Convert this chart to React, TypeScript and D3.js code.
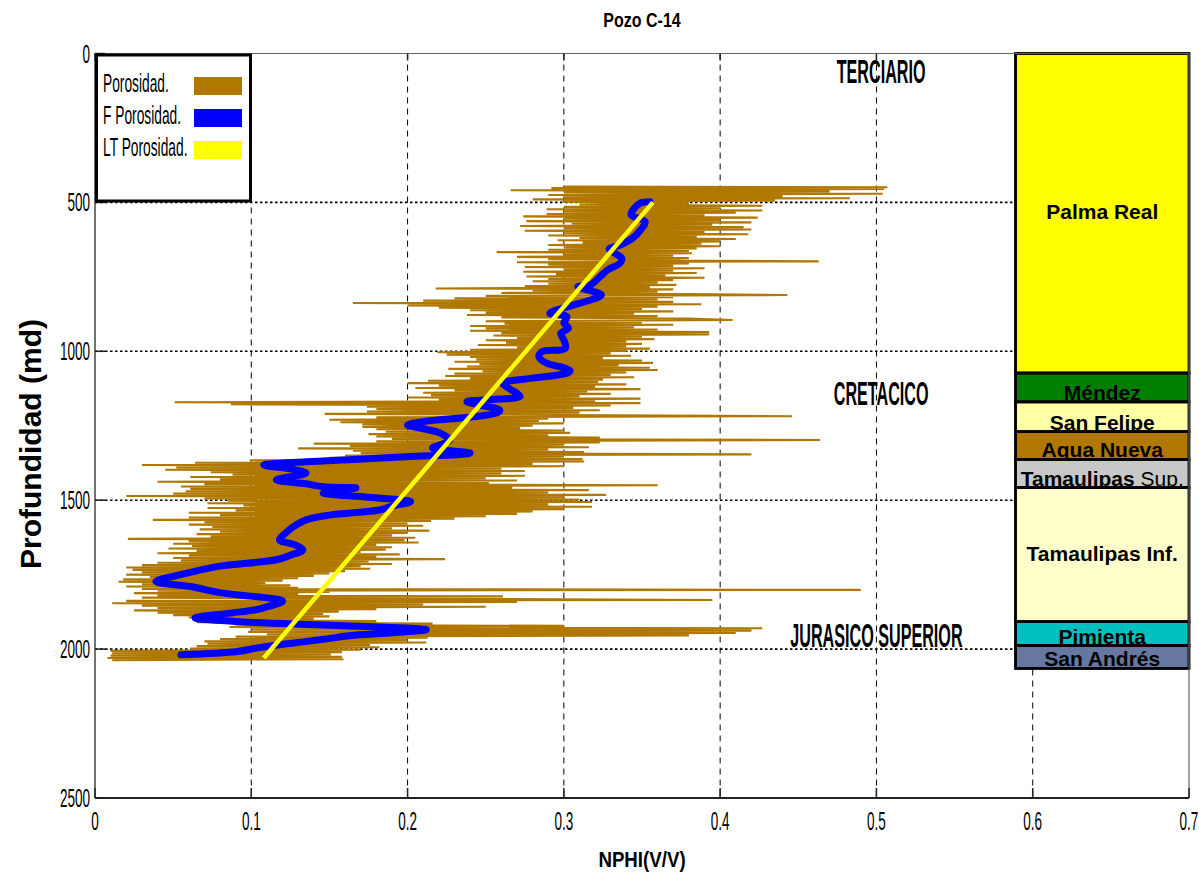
import React from 'react';
import * as d3 from 'd3';

const W = 1199;
const H = 873;

const title = 'Pozo C-14';
const xLabel = 'NPHI(V/V)';
const yLabel = 'Profundidad (md)';
const xTicks = [0, 0.1, 0.2, 0.3, 0.4, 0.5, 0.6, 0.7];
const yTicks = [0, 500, 1000, 1500, 2000, 2500];
const xGrid = [0.1, 0.2, 0.3, 0.4, 0.5, 0.6];
const yGrid = [500, 1000, 1500, 2000];

// [depth (md), NPHI]
const porosity: [number, number][] = [
  [447,0.300],[449,0.507],[452,0.292],[455,0.505],[459,0.266],[463,0.470],[467,0.300],[471,0.504],[475,0.290],[479,0.440],
  [483,0.300],[486,0.483],[490,0.280],[494,0.435],[498,0.300],[503,0.380],[507,0.310],[511,0.427],[515,0.300],[519,0.400],
  [523,0.289],[527,0.427],[531,0.300],[535,0.410],[539,0.289],[543,0.390],[547,0.274],[551,0.424],[555,0.300],[559,0.400],
  [563,0.276],[567,0.420],[571,0.305],[575,0.395],[579,0.272],[583,0.415],[587,0.300],[591,0.420],[595,0.275],[599,0.390],
  [603,0.300],[607,0.418],[611,0.290],[615,0.385],[619,0.310],[623,0.410],[627,0.296],[631,0.400],[635,0.312],[639,0.388],
  [643,0.290],[647,0.400],[651,0.300],[655,0.385],[659,0.290],[663,0.380],[667,0.257],[671,0.382],[675,0.300],[679,0.370],
  [683,0.270],[687,0.380],[691,0.290],[695,0.375],[698,0.463],[701,0.270],[705,0.380],[709,0.290],[713,0.370],[717,0.275],
  [721,0.390],[725,0.300],[729,0.370],[733,0.274],[737,0.385],[741,0.295],[745,0.365],[749,0.276],[753,0.390],[757,0.290],
  [761,0.370],[765,0.280],[769,0.360],[773,0.290],[777,0.372],[781,0.275],[785,0.355],[789,0.218],[792,0.370],[796,0.280],
  [800,0.360],[804,0.260],[808,0.380],[811,0.443],[814,0.250],[818,0.370],[822,0.230],[826,0.360],[830,0.210],[834,0.370],
  [838,0.165],[842,0.388],[846,0.200],[850,0.360],[854,0.220],[858,0.350],[862,0.240],[866,0.370],[870,0.250],[874,0.345],
  [878,0.238],[882,0.360],[886,0.260],[890,0.380],[895,0.408],[899,0.250],[903,0.350],[907,0.262],[911,0.370],[915,0.240],
  [919,0.345],[923,0.250],[927,0.360],[931,0.240],[935,0.393],[939,0.260],[943,0.393],[947,0.255],[951,0.350],[955,0.270],
  [959,0.358],[963,0.250],[967,0.340],[971,0.263],[975,0.350],[979,0.245],[983,0.340],[987,0.270],[991,0.355],[995,0.240],
  [999,0.340],[1003,0.219],[1007,0.330],[1011,0.225],[1015,0.343],[1019,0.240],[1023,0.325],[1027,0.244],[1031,0.350],[1035,0.230],
  [1039,0.357],[1043,0.246],[1047,0.335],[1051,0.238],[1055,0.355],[1059,0.226],[1063,0.360],[1067,0.248],[1071,0.340],[1075,0.230],
  [1079,0.330],[1083,0.224],[1087,0.345],[1091,0.240],[1095,0.325],[1099,0.213],[1103,0.322],[1107,0.200],[1111,0.340],[1115,0.220],
  [1119,0.320],[1123,0.205],[1127,0.349],[1131,0.230],[1135,0.315],[1139,0.210],[1143,0.330],[1147,0.215],[1151,0.310],[1155,0.200],
  [1159,0.349],[1163,0.220],[1167,0.320],[1171,0.051],[1174,0.349],[1178,0.087],[1182,0.330],[1186,0.174],[1190,0.306],[1194,0.180],
  [1198,0.323],[1202,0.174],[1206,0.310],[1210,0.147],[1214,0.300],[1218,0.446],[1222,0.180],[1226,0.290],[1230,0.150],[1234,0.284],
  [1238,0.157],[1242,0.300],[1246,0.171],[1250,0.280],[1254,0.171],[1258,0.272],[1262,0.180],[1266,0.300],[1270,0.186],[1274,0.304],
  [1278,0.175],[1282,0.290],[1286,0.180],[1290,0.323],[1294,0.190],[1298,0.464],[1302,0.180],[1306,0.323],[1310,0.140],[1314,0.300],
  [1318,0.163],[1322,0.316],[1326,0.130],[1330,0.290],[1334,0.165],[1338,0.313],[1342,0.170],[1346,0.420],[1350,0.160],[1354,0.300],
  [1358,0.150],[1362,0.312],[1366,0.099],[1370,0.313],[1374,0.064],[1378,0.280],[1382,0.030],[1386,0.300],[1390,0.052],[1394,0.260],
  [1398,0.045],[1402,0.275],[1406,0.074],[1410,0.260],[1414,0.088],[1418,0.275],[1422,0.061],[1426,0.250],[1430,0.080],[1434,0.270],
  [1438,0.040],[1442,0.252],[1446,0.070],[1450,0.360],[1454,0.055],[1458,0.267],[1462,0.061],[1466,0.316],[1470,0.058],[1474,0.290],
  [1478,0.050],[1482,0.327],[1486,0.020],[1490,0.300],[1494,0.070],[1498,0.310],[1502,0.085],[1506,0.318],[1510,0.072],[1514,0.290],
  [1518,0.095],[1522,0.318],[1526,0.072],[1530,0.300],[1534,0.090],[1538,0.280],[1542,0.060],[1546,0.270],[1550,0.080],[1554,0.250],
  [1558,0.060],[1562,0.230],[1566,0.037],[1570,0.215],[1574,0.070],[1578,0.200],[1582,0.060],[1586,0.210],[1590,0.075],[1594,0.190],
  [1598,0.067],[1602,0.214],[1606,0.080],[1610,0.200],[1614,0.065],[1618,0.190],[1622,0.074],[1626,0.205],[1630,0.021],[1634,0.198],
  [1638,0.060],[1642,0.207],[1646,0.050],[1650,0.180],[1654,0.062],[1658,0.190],[1662,0.047],[1666,0.186],[1670,0.065],[1674,0.170],
  [1678,0.040],[1682,0.195],[1686,0.060],[1690,0.180],[1694,0.050],[1698,0.224],[1702,0.055],[1706,0.175],[1710,0.040],[1714,0.190],
  [1718,0.030],[1722,0.170],[1726,0.020],[1730,0.176],[1734,0.024],[1738,0.160],[1742,0.030],[1746,0.150],[1750,0.020],[1754,0.140],
  [1758,0.035],[1762,0.130],[1766,0.018],[1770,0.120],[1774,0.015],[1778,0.109],[1782,0.030],[1786,0.125],[1790,0.020],[1794,0.130],
  [1798,0.030],[1801,0.490],[1804,0.040],[1808,0.150],[1812,0.025],[1816,0.130],[1820,0.040],[1823,0.261],[1827,0.030],[1831,0.200],
  [1835,0.395],[1838,0.020],[1842,0.270],[1846,0.011],[1850,0.210],[1854,0.030],[1858,0.250],[1862,0.040],[1866,0.180],[1870,0.025],
  [1874,0.156],[1878,0.040],[1882,0.146],[1886,0.050],[1890,0.150],[1894,0.060],[1898,0.140],[1902,0.070],[1906,0.180],[1910,0.065],
  [1914,0.216],[1918,0.090],[1922,0.300],[1926,0.086],[1930,0.427],[1934,0.100],[1938,0.420],[1942,0.098],[1946,0.410],[1950,0.110],
  [1954,0.380],[1958,0.090],[1962,0.213],[1966,0.080],[1970,0.200],[1974,0.070],[1978,0.212],[1982,0.072],[1986,0.176],[1990,0.065],
  [1994,0.182],[1998,0.061],[2002,0.170],[2006,0.010],[2010,0.158],[2014,0.011],[2018,0.151],[2022,0.010],[2026,0.158],[2030,0.008],
  [2034,0.159],[2037,0.011],
];

// filtered porosity [depth, NPHI]
const fPorosity: [number, number][] = [
  [498,0.355],[502,0.349],[520,0.345],[542,0.343],[565,0.352],[593,0.349],[620,0.344],[643,0.336],[657,0.329],[672,0.333],
  [687,0.337],[704,0.336],[727,0.328],[750,0.323],[777,0.317],[783,0.309],[798,0.318],[811,0.324],[828,0.317],[845,0.306],
  [872,0.291],[884,0.302],[905,0.300],[922,0.303],[940,0.298],[962,0.300],[990,0.301],[1001,0.286],[1018,0.284],[1040,0.289],
  [1055,0.300],[1066,0.304],[1074,0.302],[1090,0.280],[1107,0.261],[1125,0.265],[1141,0.270],[1152,0.272],[1169,0.238],[1180,0.245],
  [1197,0.259],[1205,0.258],[1220,0.242],[1236,0.210],[1248,0.200],[1262,0.212],[1275,0.221],[1298,0.227],[1312,0.222],[1325,0.216],
  [1342,0.240],[1354,0.199],[1363,0.165],[1371,0.135],[1382,0.108],[1395,0.125],[1409,0.135],[1432,0.116],[1445,0.135],[1455,0.146],
  [1459,0.167],[1467,0.155],[1476,0.146],[1490,0.175],[1505,0.202],[1520,0.190],[1533,0.182],[1550,0.150],[1566,0.135],[1589,0.127],
  [1610,0.122],[1633,0.118],[1650,0.128],[1667,0.133],[1685,0.125],[1700,0.116],[1723,0.078],[1750,0.055],[1773,0.039],[1790,0.061],
  [1812,0.082],[1839,0.120],[1855,0.112],[1868,0.103],[1880,0.085],[1895,0.064],[1908,0.093],[1920,0.150],[1935,0.212],[1945,0.190],
  [1953,0.167],[1968,0.145],[1981,0.125],[1995,0.105],[2008,0.091],[2019,0.055],
];

// linear trend [depth, NPHI]
const ltPorosity: [number, number][] = [[500, 0.357], [2030, 0.108]];

const legendNames = ['Porosidad.', 'F Porosidad.', 'LT Porosidad.'];
const legendColors = ['#B07800', '#0000FF', '#FFFF00'];

const formationNames = ['Palma Real', 'Méndez', 'San Felipe', 'Agua Nueva', 'Tamaulipas', 'Tamaulipas Inf.', 'Pimienta', 'San Andrés'];
const formationTops = [0, 1073, 1170, 1270, 1363, 1458, 1908, 1988];
const formationBase = 2065;
const formationColors = ['#FFFF00', '#007F00', '#FFFFA6', '#B07800', '#C8C8C8', '#FFFFCC', '#00C0C0', '#6677A0'];
const columnLeft = 0.589;

const eraNames = ['TERCIARIO', 'CRETACICO', 'JURASICO SUPERIOR'];
const eraDepths = [99, 1180, 1993];
const eraX = [0.503, 0.503, 0.5];

const FONT = 'Liberation Sans, Arial, Helvetica, sans-serif';

function CText(props: any) {
  const { x, y, sx = 1, size, weight = 'normal', anchor = 'start', fill = '#000', children, rotate = 0 } = props;
  return (
    <g transform={`translate(${x},${y}) rotate(${rotate}) scale(${sx},1)`}>
      <text x={0} y={0} fontSize={size} fontWeight={weight} textAnchor={anchor} fontFamily={FONT} fill={fill}>
        {children}
      </text>
    </g>
  );
}

export default function App() {
  const x = d3.scaleLinear().domain([0, 0.7]).range([95, 1189]);
  const y = d3.scaleLinear().domain([0, 2500]).range([53.5, 798]);

  const line = d3.line<[number, number]>().x(d => x(d[1])).y(d => y(d[0]));
  const smooth = d3.line<[number, number]>().x(d => x(d[1])).y(d => y(d[0])).curve(d3.curveCatmullRom.alpha(0.5));

  const colX0 = x(columnLeft);
  const colX1 = x(0.7);
  const layers = formationNames.map((n, i) => ({
    name: n,
    top: formationTops[i],
    bottom: i < formationTops.length - 1 ? formationTops[i + 1] : formationBase,
    color: formationColors[i],
  }));

  return (
    <svg width={W} height={H} style={{ position: 'absolute', left: 0, top: 0, background: '#fff' }}>
      <rect x={0} y={0} width={W} height={H} fill="#fff" />
      <defs>
        {layers.map((l, i) => (
          <clipPath id={`clip${i}`} key={i}>
            <rect x={colX0} y={y(l.top)} width={colX1 - colX0} height={y(l.bottom) - y(l.top)} />
          </clipPath>
        ))}
      </defs>

      {/* grid */}
      {xGrid.map(v => (
        <line key={'gx' + v} x1={x(v)} x2={x(v)} y1={y(0)} y2={y(2500)} stroke="#000" strokeWidth={1} strokeDasharray="6,5" />
      ))}
      {yGrid.map(v => (
        <line key={'gy' + v} x1={x(0)} x2={x(0.7)} y1={y(v)} y2={y(v)} stroke="#000" strokeWidth={1.6} strokeDasharray="2.5,2.5" />
      ))}

      {/* porosity log */}
      <path d={line(porosity) || ''} fill="none" stroke="#B07800" strokeWidth={2.1} strokeLinejoin="bevel" />
      <path d={smooth(fPorosity) || ''} fill="none" stroke="#0000FF" strokeWidth={7} strokeLinejoin="round" strokeLinecap="round" />
      <path d={line(ltPorosity) || ''} fill="none" stroke="#FFFF00" strokeWidth={4.5} />

      {/* formation column */}
      {layers.map((l, i) => (
        <rect key={'lr' + i} x={colX0} y={y(l.top)} width={colX1 - colX0} height={y(l.bottom) - y(l.top)} fill={l.color} stroke="#000" strokeWidth={2.5} />
      ))}
      {layers.map((l, i) => {
        const y0 = y(l.top);
        const y1 = y(l.bottom);
        const h = y1 - y0;
        const by = h < 40 ? y1 - 2 : (y0 + y1) / 2 + 6;
        const cx = (colX0 + colX1) / 2;
        return (
          <g key={'lt' + i} clipPath={`url(#clip${i})`}>
            <text x={cx} y={by} textAnchor="middle" fontFamily={FONT} fontWeight="bold" fontSize={21} fill="#000">
              {l.name}
              {l.name === 'Tamaulipas' ? <tspan fontWeight="normal"> Sup.</tspan> : null}
            </text>
          </g>
        );
      })}
      {layers.map((l, i) => (
        <rect key={'lb' + i} x={colX0} y={y(l.top)} width={colX1 - colX0} height={y(l.bottom) - y(l.top)} fill="none" stroke="#000" strokeWidth={2.5} />
      ))}

      {/* frame */}
      <line x1={x(0)} x2={x(0.7)} y1={y(0)} y2={y(0)} stroke="#666" strokeWidth={1.2} />
      <line x1={x(0.7)} x2={x(0.7)} y1={y(0)} y2={y(2500)} stroke="#666" strokeWidth={1.2} />
      <line x1={x(0)} x2={x(0)} y1={y(0)} y2={y(2500)} stroke="#444" strokeWidth={1.5} />
      <line x1={x(0)} x2={x(0.7)} y1={y(2500)} y2={y(2500)} stroke="#222" strokeWidth={2} />
      {yTicks.map(v => (
        <line key={'ty' + v} x1={x(0)} x2={x(0) + 10} y1={y(v)} y2={y(v)} stroke="#222" strokeWidth={1.5} />
      ))}
      {xTicks.map(v => (
        <line key={'tx' + v} x1={x(v)} x2={x(v)} y1={y(2500)} y2={y(2500) - 10} stroke="#222" strokeWidth={1.5} />
      ))}
      {xTicks.filter(v => v < columnLeft).map(v => (
        <line key={'tt' + v} x1={x(v)} x2={x(v)} y1={y(0)} y2={y(0) + 7} stroke="#222" strokeWidth={1.5} />
      ))}

      {/* legend */}
      <rect x={96.5} y={55} width={154} height={146} fill="#fff" stroke="#000" strokeWidth={3} />
      {legendNames.map((n, i) => (
        <g key={'lg' + i}>
          <CText x={103} y={92 + i * 32.2} sx={0.53} size={26}>{n}</CText>
          <rect x={194} y={77 + i * 32} width={48} height={18} fill={legendColors[i]} />
        </g>
      ))}

      {/* era labels */}
      {eraNames.map((n, i) => (
        <CText key={'era' + i} x={x(eraX[i])} y={y(eraDepths[i])} sx={0.475} size={34} weight="bold" anchor="middle">{n}</CText>
      ))}

      {/* tick labels */}
      {yTicks.map(v => (
        <CText key={'yl' + v} x={90} y={y(v) + 9} sx={0.52} size={26} anchor="end">{String(v)}</CText>
      ))}
      {xTicks.map(v => (
        <CText key={'xl' + v} x={x(v)} y={830} sx={0.52} size={26} anchor="middle">{String(v)}</CText>
      ))}

      {/* titles */}
      <CText x={642} y={27} sx={0.8} size={20} weight="bold" anchor="middle">{title}</CText>
      <CText x={642} y={867} sx={0.85} size={22} weight="bold" anchor="middle">{xLabel}</CText>
      <CText x={41} y={444} size={30} weight="bold" anchor="middle" rotate={-90}>{yLabel}</CText>
    </svg>
  );
}
